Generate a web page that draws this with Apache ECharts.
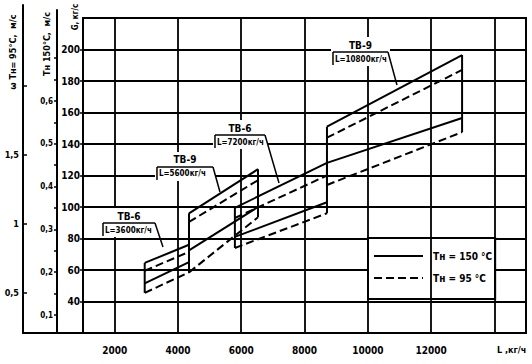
<!DOCTYPE html>
<html><head><meta charset="utf-8">
<script src="https://cdn.jsdelivr.net/npm/echarts@6/dist/echarts.min.js"></script>
<style>html,body{margin:0;padding:0;background:#fff}#c{width:532px;height:364px}</style>
</head><body><div id="c"></div>
<script>
// ---- data ----
const xLabels = [2000, 4000, 6000, 8000, 10000, 12000];
const xGridLines = [2000, 4000, 6000, 8000, 10000, 12000, 14000];
const gTicks = [40, 60, 80, 100, 120, 140, 160, 180, 200];
const w95Labels = [0.5, 1, 1.5];
const w95Ticks = [0.5, 1, 1.5, 2];
const w150Labels = [0.1, 0.2, 0.3, 0.4, 0.5, 0.6];
const w150Ticks = [0.1, 0.15, 0.2, 0.25, 0.3, 0.35, 0.4, 0.45, 0.5, 0.55, 0.6, 0.65, 0.7];

const bandTypes = ['ТВ-6', 'ТВ-9', 'ТВ-6', 'ТВ-9'];
const bandFlows = ['L=3600кг/ч', 'L=5600кг/ч', 'L=7200кг/ч', 'L=10800кг/ч'];
const bandX = [[2950, 4350], [4350, 6530], [5800, 8710], [8710, 12980]];
const hotUpper = [[64.5, 76], [96, 124], [99.5, 128], [151, 196.5]];
const coldUpper = [[59.5, 71.5], [90.5, 117], [93, 120], [144, 187]];
const hotLower = [[51.5, 65], [72.5, 100], [81, 103], [128, 156.5]];
const coldLower = [[45.5, 58.5], [58.5, 93.5], [74, 96], [114, 147.5]];

// annotation anchors (data units): underline x0, x1, y ; leader end x, y
const annUnderline = [[1632, 3275, 89.8], [3338, 5108, 125.4], [5171, 6751, 145.7], [8900, 10638, 198.4]];
const annLeaderEnd = [[3528, 74.6], [5329, 109.5], [7194, 115.2], [10922, 177.5]];

const HOT = 'Тн = 150 °С', COLD = 'Тн = 95 °С';
const FONT = 'DejaVu Sans Condensed';
const fmt = v => String(v).replace('.', ',');

const chart = echarts.init(document.getElementById('c'), null, {renderer: 'svg'});

const series = [];
function seg(name, xs, ys, dashed) {
  series.push({
    type: 'line', name: name, xAxisIndex: 0, yAxisIndex: 0,
    data: [[xs[0], ys[0]], [xs[1], ys[1]]],
    symbol: 'none', showSymbol: false, silent: true, z: 5,
    lineStyle: {color: '#000', width: 2, type: dashed ? [8, 4] : 'solid'},
    itemStyle: {color: '#000'}
  });
}
for (let i = 0; i < bandX.length; i++) {
  const xs = bandX[i];
  seg(HOT, xs, hotUpper[i], false);
  seg(COLD, xs, coldUpper[i], true);
  seg(HOT, xs, hotLower[i], false);
  seg(COLD, xs, coldLower[i], true);
  seg('edge', [xs[0], xs[0]], [coldLower[i][0], hotUpper[i][0]], false);
  seg('edge', [xs[1], xs[1]], [coldLower[i][1], hotUpper[i][1]], false);
}
// vertical grid lines
series[0].markLine = {
  silent: true, symbol: 'none', label: {show: false},
  lineStyle: {color: '#000', width: 1.8, type: 'solid'},
  data: xGridLines.map(v => ({xAxis: v}))
};

const axisFontBold = {fontFamily: FONT, fontWeight: 'bold', color: '#000'};

chart.setOption({
  animation: false,
  backgroundColor: '#fff',
  grid: [
    {left: 83, right: 6, top: 18, bottom: 31, show: true, borderColor: '#000', borderWidth: 2},
    {left: 23, right: 449, top: 5, bottom: 31},
    {left: 57, width: 26, top: 10, bottom: 31}
  ],
  xAxis: [
    {gridIndex: 0, type: 'value', min: 1000, max: 15000,
     axisLine: {show: true, lineStyle: {color: '#000', width: 2}},
     axisTick: {show: false}, splitLine: {show: false},
     axisLabel: Object.assign({customValues: xLabels, fontSize: 10, margin: 12, formatter: v => String(v)}, axisFontBold),
     name: 'L ,кг/ч', nameLocation: 'end', nameGap: -29,
     nameTextStyle: Object.assign({fontSize: 9, align: 'left', verticalAlign: 'top', padding: [12, 0, 0, 0]}, axisFontBold)},
    {gridIndex: 1, type: 'value', min: 0, max: 1,
     axisLine: {show: true, lineStyle: {color: '#000', width: 2}},
     axisTick: {show: false}, axisLabel: {show: false}, splitLine: {show: false}},
    {gridIndex: 2, type: 'value', min: 0, max: 1, show: false}
  ],
  yAxis: [
    {gridIndex: 0, type: 'value', min: 20, max: 220, interval: 20,
     axisLine: {show: true, lineStyle: {color: '#000', width: 2}},
     axisTick: {show: true, length: 3, customValues: gTicks, lineStyle: {color: '#000', width: 1.5}},
     axisLabel: Object.assign({customValues: gTicks, fontSize: 10, margin: 3, formatter: v => String(v)}, axisFontBold),
     splitLine: {show: true, lineStyle: {color: '#000', width: 1.8}}},
    {gridIndex: 1, type: 'value', min: 0.21, max: 2.587,
     axisLine: {show: true, lineStyle: {color: '#000', width: 2}},
     axisTick: {show: true, inside: true, length: 4, customValues: w95Ticks, lineStyle: {color: '#000', width: 1.5}},
     axisLabel: Object.assign({customValues: w95Labels, fontSize: 9, margin: 4, formatter: fmt}, axisFontBold),
     splitLine: {show: false}},
    {gridIndex: 2, type: 'value', min: 0.058, max: 0.8126,
     axisLine: {show: true, lineStyle: {color: '#000', width: 2}},
     axisTick: {show: true, length: 3, customValues: w150Ticks, lineStyle: {color: '#000', width: 1.5}},
     axisLabel: Object.assign({customValues: w150Labels, fontSize: 8, margin: 4, formatter: fmt}, axisFontBold),
     splitLine: {show: false}}
  ],
  legend: {
    data: [HOT, COLD], orient: 'vertical', left: 368, top: 238,
    itemWidth: 49, itemHeight: 10, itemGap: 12, padding: [13, 3, 16, 5],
    backgroundColor: '#fff', borderColor: '#000', borderWidth: 2, borderRadius: 0,
    itemStyle: {opacity: 0},
    textStyle: Object.assign({fontSize: 10, padding: [0, 0, 0, 5]}, axisFontBold),
    selectedMode: false
  },
  series: series
});

// annotations and rotated axis titles
const g = [];
for (let i = 0; i < annUnderline.length; i++) {
  const a = annUnderline[i];
  const p0 = chart.convertToPixel({gridIndex: 0}, [a[0], a[2]]);
  const p1 = chart.convertToPixel({gridIndex: 0}, [a[1], a[2]]);
  const pe = chart.convertToPixel({gridIndex: 0}, annLeaderEnd[i]);
  g.push({type: 'rect', z: 100, shape: {x: p0[0] - 2, y: p0[1] - 15, width: p1[0] - p0[0] + 4, height: 29}, style: {fill: '#fff'}});
  g.push({type: 'text', z: 101, x: (p0[0] + p1[0]) / 2, y: p0[1] - 7,
          style: {text: bandTypes[i], fontFamily: FONT, fontWeight: 'bold', fontSize: 10, fill: '#000', align: 'center', verticalAlign: 'middle'}});
  g.push({type: 'text', z: 101, x: p0[0] + 2, y: p0[1] + 7,
          style: {text: bandFlows[i], fontFamily: FONT, fontWeight: 'bold', fontSize: 8, fill: '#000', align: 'left', verticalAlign: 'middle'}});
  g.push({type: 'line', z: 101, shape: {x1: p0[0], y1: p0[1], x2: p1[0], y2: p1[1]}, style: {stroke: '#000', lineWidth: 1.5}});
  g.push({type: 'line', z: 101, shape: {x1: p0[0], y1: p0[1], x2: p0[0], y2: p0[1] + 13}, style: {stroke: '#000', lineWidth: 1.5}});
  g.push({type: 'line', z: 101, shape: {x1: p1[0], y1: p1[1], x2: pe[0], y2: pe[1]}, style: {stroke: '#000', lineWidth: 1.5}});
}
const titleStyle = {fontFamily: FONT, fontWeight: 'bold', fill: '#000', align: 'center', verticalAlign: 'middle'};
g.push({type: 'text', z: 101, x: 13, y: 52, rotation: Math.PI / 2,
        style: Object.assign({text: 'ω Тн= 95°С,  м/с', fontSize: 9}, titleStyle)});
g.push({type: 'text', z: 101, x: 47, y: 44, rotation: Math.PI / 2,
        style: Object.assign({text: 'Тн 150°С,  м/с', fontSize: 9}, titleStyle)});
g.push({type: 'text', z: 101, x: 75, y: 17, rotation: Math.PI / 2,
        style: Object.assign({text: 'G, кг/с', fontSize: 8}, titleStyle)});
chart.setOption({graphic: {elements: g}});
</script>
</body></html>
